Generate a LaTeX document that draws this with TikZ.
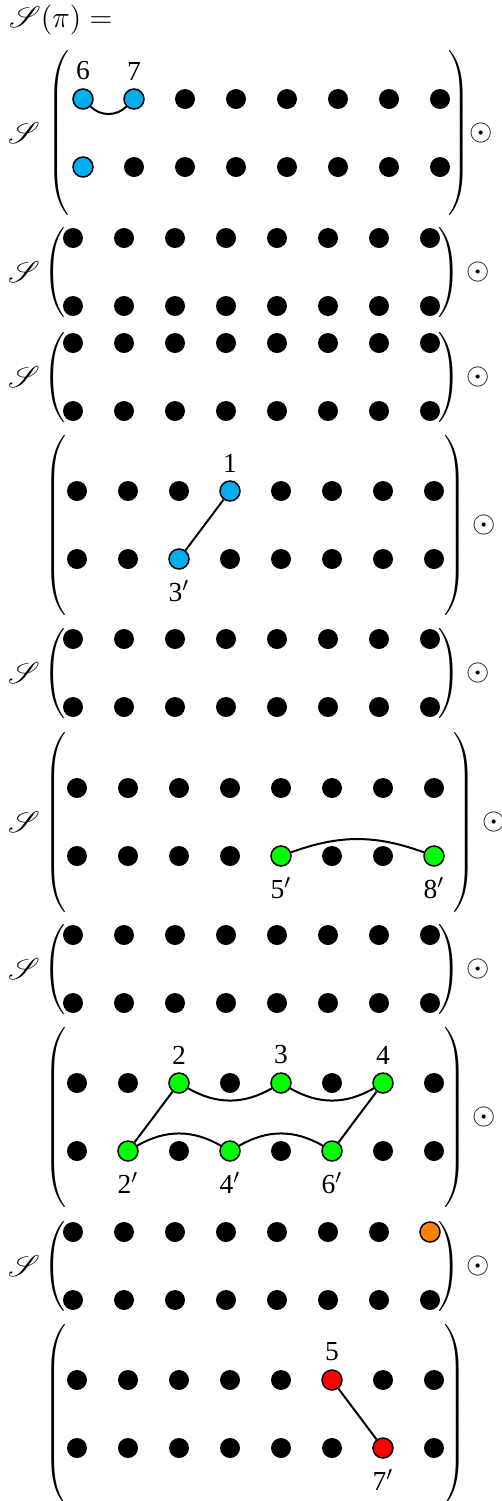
\documentclass[tikz,border=0pt]{standalone}
\usepackage{fontspec}
\setmainfont{Liberation Serif}
\usepackage{amsmath}
\usepackage{mathrsfs}
\usetikzlibrary{positioning}

\definecolor{ptblue}{RGB}{0,174,239}
\definecolor{ptgreen}{RGB}{0,255,0}
\definecolor{ptorange}{RGB}{255,128,0}
\definecolor{ptred}{RGB}{255,0,0}

% tall delimiters of a given height (pt)
\newcommand{\parL}[1]{{\delimiterfactor=1000\delimitershortfall=0pt
  $\left(\vcenter{\hbox{\rule{0pt}{#1pt}}}\right.$}}
\newcommand{\parR}[1]{{\delimiterfactor=1000\delimitershortfall=0pt
  $\left.\vcenter{\hbox{\rule{0pt}{#1pt}}}\right)$}}

\begin{document}
\begin{tikzpicture}[x=0.4pt, y=-0.4pt,
  dot/.style={circle, fill=black, inner sep=0pt, minimum size=8pt},
  hl/.style={dot, draw=black, line width=0.6pt, fill=#1},
  link/.style={line width=0.8pt},
  lbl/.style={inner sep=1pt, font=\fontsize{11}{13}\selectfont},
  sym/.style={font=\fontsize{12.5}{15}\selectfont}]
  \useasboundingbox (0,0) rectangle (501,1501);

  % Header
  \node[sym, anchor=west, inner sep=1pt] (head) at (6,20) {$\mathscr{S}(\pi) =$};

  % Blocks: index / top row / first column / left paren / right paren / paren height / S / odot
  \foreach \b/\yt/\xo/\lp/\rp/\ph/\s/\od in {
      1/99/83/60/458/61/1/481,
      2/238/73/56/448/34/1/478,
      3/343/73/56/448/34/1/478,
      4/491/77/57/454/68/0/484,
      5/639/73/56/448/34/1/478,
      6/788/77/57/463/68/1/494,
      7/935/73/56/448/34/1/478,
      8/1083/77/57/454/68/0/484,
      9/1232/73/56/448/34/1/478,
      10/1380/77/57/454/68/0/0}{
    \foreach \c in {1,...,8}{
      \node[dot] (b\b-t\c) at ({\xo+(\c-1)*51},\yt) {};
      \node[dot] (b\b-b\c) at ({\xo+(\c-1)*51},{\yt+68}) {};
    }
    \node[inner sep=0pt] (b\b-lp) at (\lp,{\yt+34}) {\parL{\ph}};
    \node[inner sep=0pt] (b\b-rp) at (\rp,{\yt+34}) {\parR{\ph}};
    \ifnum\s=1
      \node[sym] (b\b-s) at (24,{\yt+34}) {$\mathscr{S}$};
    \fi
    \ifnum\od>0
      \node[sym] (b\b-od) at (\od,{\yt+34}) {$\odot$};
    \fi
  }

  % Block 1
  \node[hl=ptblue] (b1-t1) at (b1-t1) {};
  \node[hl=ptblue] (b1-t2) at (b1-t2) {};
  \node[hl=ptblue] (b1-b1) at (b1-b1) {};
  \node[lbl, above=2pt of b1-t1] {6};
  \node[lbl, above=2pt of b1-t2] {7};
  \draw[link] (b1-t1) to[bend right=45] (b1-t2);

  % Block 4
  \node[hl=ptblue] (b4-t4) at (b4-t4) {};
  \node[hl=ptblue] (b4-b3) at (b4-b3) {};
  \node[lbl, above=2pt of b4-t4] {1};
  \node[lbl, below=3pt of b4-b3] {3$'$};
  \draw[link] (b4-t4) -- (b4-b3);

  % Block 6
  \node[hl=ptgreen] (b6-b5) at (b6-b5) {};
  \node[hl=ptgreen] (b6-b8) at (b6-b8) {};
  \node[lbl, below=3pt of b6-b5] {5$'$};
  \node[lbl, below=3pt of b6-b8] {8$'$};
  \draw[link] (b6-b5) to[bend left=20] (b6-b8);

  % Block 8
  \foreach \n in {t3,t5,t7,b2,b4,b6}
    \node[hl=ptgreen] (b8-\n) at (b8-\n) {};
  \node[lbl, above=2pt of b8-t3] {2};
  \node[lbl, above=2pt of b8-t5] {3};
  \node[lbl, above=2pt of b8-t7] {4};
  \node[lbl, below=3pt of b8-b2] {2$'$};
  \node[lbl, below=3pt of b8-b4] {4$'$};
  \node[lbl, below=3pt of b8-b6] {6$'$};
  \draw[link] (b8-t3) to[bend right=30] (b8-t5);
  \draw[link] (b8-t5) to[bend right=30] (b8-t7);
  \draw[link] (b8-b2) to[bend left=30] (b8-b4);
  \draw[link] (b8-b4) to[bend left=30] (b8-b6);
  \draw[link] (b8-t3) -- (b8-b2);
  \draw[link] (b8-t7) -- (b8-b6);

  % Block 9
  \node[hl=ptorange] (b9-t8) at (b9-t8) {};

  % Block 10
  \node[hl=ptred] (b10-t6) at (b10-t6) {};
  \node[hl=ptred] (b10-b7) at (b10-b7) {};
  \node[lbl, above=2pt of b10-t6] {5};
  \node[lbl, below=3pt of b10-b7] {7$'$};
  \draw[link] (b10-t6) -- (b10-b7);
\end{tikzpicture}
\end{document}
